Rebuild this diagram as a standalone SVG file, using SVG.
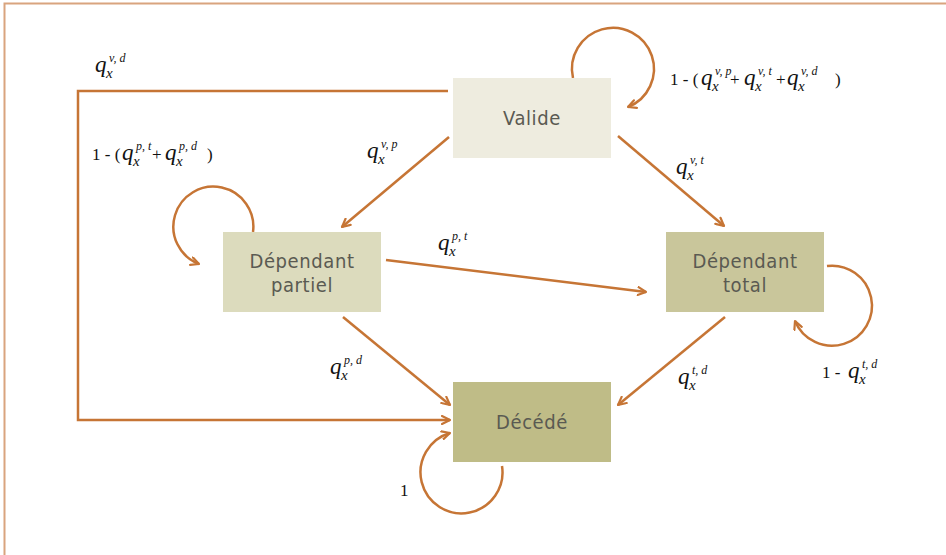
<svg xmlns="http://www.w3.org/2000/svg" width="946" height="555" viewBox="0 0 946 555">
<style>
.frame{fill:none;stroke:#D9A47E;stroke-width:2}
.c{fill:none;stroke:#C67535;stroke-width:2.5}
.lbl{font-family:"DejaVu Sans Condensed","DejaVu Sans",sans-serif;font-stretch:condensed;font-size:20px;fill:#5A5A52;letter-spacing:0.6px;text-anchor:middle}
.q{font-family:"Liberation Serif",serif;font-style:italic;font-size:23px;fill:#111}
.sb{font-family:"Liberation Serif",serif;font-style:italic;font-size:15px;fill:#111}
.sp{font-family:"Liberation Serif",serif;font-style:italic;font-size:12px;fill:#111}
.n{font-family:"Liberation Serif",serif;font-size:17px;fill:#111}
</style>
<defs>
<marker id="ah" viewBox="0 0 10 10" refX="9" refY="5" markerWidth="10" markerHeight="10" markerUnits="userSpaceOnUse" orient="auto">
<path d="M1,1 L9,5 L1,9" fill="none" stroke="#C67535" stroke-width="2.2" stroke-linecap="round" stroke-linejoin="round"/>
</marker>
</defs>
<rect width="946" height="555" fill="#fff"/>
<path class="frame" d="M4.5,555 L4.5,3.5 L946,3.5"/>

<g id="connectors">
<path class="c" d="M449,137 L342,227" marker-end="url(#ah)"/>
<path class="c" d="M618,136 L724,226" marker-end="url(#ah)"/>
<path class="c" d="M386,260 L646,292" marker-end="url(#ah)"/>
<path class="c" d="M343,317 L450,405" marker-end="url(#ah)"/>
<path class="c" d="M725,317 L618,405" marker-end="url(#ah)"/>
<path class="c" d="M448,91 L78,91 L78,420 L450,420" marker-end="url(#ah)"/>
<path class="c" d="M573,78 A41,41 0 1 1 628,107" marker-end="url(#ah)"/>
<path class="c" d="M253,232 A40,40 0 1 0 199,264" marker-end="url(#ah)"/>
<path class="c" d="M827,266 A40,40 0 1 1 795,321" marker-end="url(#ah)"/>
<path class="c" d="M502,466 A41,41 0 1 1 450,433" marker-end="url(#ah)"/>
</g>

<g id="node-valide">
<rect x="453" y="78" width="158" height="80" fill="#EEECDF"/>
<text class="lbl" x="532" y="125">Valide</text>
</g>
<g id="node-partiel">
<rect x="223" y="232" width="158" height="80" fill="#DCDBBD"/>
<text class="lbl" x="302" y="268">Dépendant</text>
<text class="lbl" x="302" y="292">partiel</text>
</g>
<g id="node-total">
<rect x="666" y="232" width="158" height="80" fill="#C9C69B"/>
<text class="lbl" x="745" y="268">Dépendant</text>
<text class="lbl" x="745" y="292">total</text>
</g>
<g id="node-decede">
<rect x="453" y="382" width="158" height="80" fill="#BFBC87"/>
<text class="lbl" x="532" y="429">Décédé</text>
</g>

<g id="labels">
<text class="q" x="95" y="72">q</text><text class="sb" x="106" y="78">x</text><text class="sp" x="109" y="62">v, d</text>

<text class="n" x="92" y="160">1 - (</text>
<text class="q" x="122" y="160">q</text><text class="sb" x="133" y="166">x</text><text class="sp" x="136" y="150">p, t</text>
<text class="n" x="152" y="160">+</text>
<text class="q" x="165" y="160">q</text><text class="sb" x="176" y="166">x</text><text class="sp" x="179" y="150">p, d</text>
<text class="n" x="207" y="160">)</text>

<text class="n" x="670" y="85">1 - (</text>
<text class="q" x="701" y="85">q</text><text class="sb" x="712" y="91">x</text><text class="sp" x="715" y="75">v, p</text>
<text class="n" x="730" y="85">+</text>
<text class="q" x="744" y="85">q</text><text class="sb" x="755" y="91">x</text><text class="sp" x="758" y="75">v, t</text>
<text class="n" x="776" y="85">+</text>
<text class="q" x="787" y="85">q</text><text class="sb" x="798" y="91">x</text><text class="sp" x="801" y="75">v, d</text>
<text class="n" x="835" y="85">)</text>

<text class="q" x="367" y="158">q</text><text class="sb" x="378" y="164">x</text><text class="sp" x="381" y="148">v, p</text>
<text class="q" x="676" y="174">q</text><text class="sb" x="687" y="180">x</text><text class="sp" x="690" y="164">v, t</text>
<text class="q" x="438" y="250">q</text><text class="sb" x="449" y="256">x</text><text class="sp" x="452" y="240">p, t</text>
<text class="q" x="330" y="374">q</text><text class="sb" x="341" y="380">x</text><text class="sp" x="344" y="364">p, d</text>
<text class="q" x="678" y="384">q</text><text class="sb" x="689" y="390">x</text><text class="sp" x="692" y="374">t, d</text>

<text class="n" x="822" y="378">1 -</text>
<text class="q" x="848" y="378">q</text><text class="sb" x="859" y="384">x</text><text class="sp" x="862" y="368">t, d</text>

<text class="n" x="400" y="496">1</text>
</g>
</svg>
